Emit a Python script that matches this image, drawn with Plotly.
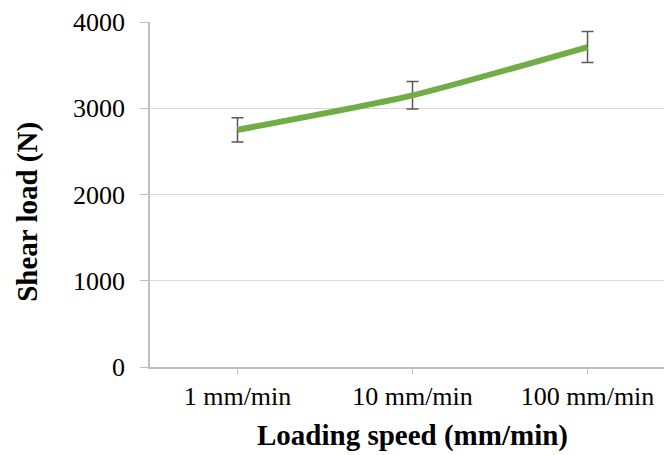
import plotly.graph_objects as go

categories = ["1 mm/min", "10 mm/min", "100 mm/min"]
shear_load = [2750, 3150, 3710]
error = [140, 160, 180]
y_ticks = [0, 1000, 2000, 3000, 4000]

FONT = "Liberation Serif, Times New Roman, serif"

fig = go.Figure()
fig.add_trace(go.Scatter(
    x=categories, y=shear_load,
    mode="lines",
    line=dict(color="#70ad47", width=6, shape="spline", smoothing=0.6),
    error_y=dict(type="data", array=error, visible=True,
                 color="#595959", thickness=1.5, width=6),
    showlegend=False,
))

fig.update_layout(
    width=664, height=455,
    margin=dict(l=150, r=0, t=22, b=88),
    paper_bgcolor="white", plot_bgcolor="white",
    font=dict(family=FONT, size=26, color="black"),
    xaxis=dict(
        type="category", range=[-0.5, 2.437],
        showline=True, linecolor="#bfbfbf", linewidth=1.5,
        ticks="outside", ticklen=5, tickcolor="#bfbfbf",
        showgrid=False, tickfont=dict(family=FONT, size=26, color="black"),
    ),
    yaxis=dict(
        range=[0, 4000], tickvals=y_ticks,
        showline=True, linecolor="#bfbfbf", linewidth=1.5,
        ticks="outside", ticklen=8, tickcolor="#bfbfbf",
        showgrid=True, gridcolor="#d9d9d9", gridwidth=1,
        zeroline=False, ticklabelstandoff=10,
        tickfont=dict(family=FONT, size=26, color="black"),
    ),
    annotations=[
        dict(text="<b>Loading speed (mm/min)</b>", xref="paper", yref="paper",
             x=(412 - 150) / 514, y=(367.3 - 436) / 345.3,
             xanchor="center", yanchor="middle", showarrow=False,
             font=dict(family=FONT, size=29, color="black")),
        dict(text="<b>Shear load (N)</b>", xref="paper", yref="paper",
             x=(28 - 150) / 514, y=(367.3 - 212) / 345.3, textangle=-90,
             xanchor="center", yanchor="middle", showarrow=False,
             font=dict(family=FONT, size=29, color="black")),
    ],
)

fig.write_html("out.html")
